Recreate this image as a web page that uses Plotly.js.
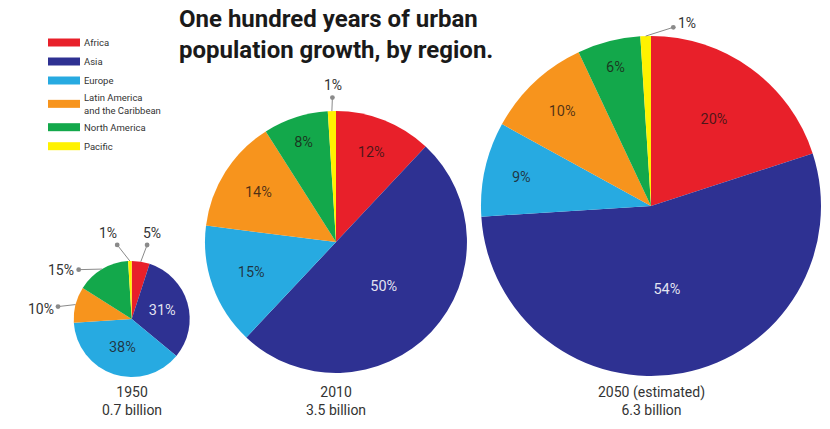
<!DOCTYPE html>
<html>
<head>
<meta charset="utf-8">
<script src="https://cdn.plot.ly/plotly-3.0.1.min.js"></script>
<style>html,body{margin:0;padding:0;background:#fff;}#chart{width:830px;height:429px;}</style>
</head>
<body>
<div id="chart"></div>
<script>
// ---- data ----
const regions = ['Africa', 'Asia', 'Europe', 'Latin America<br>and the Caribbean', 'North America', 'Pacific'];
const share1950 = [5, 31, 38, 10, 15, 1];
const share2010 = [12, 50, 15, 14, 8, 1];
const share2050 = [20, 54, 9, 10, 6, 1];
const years = ['1950', '2010', '2050 (estimated)'];
const totals = ['0.7 billion', '3.5 billion', '6.3 billion'];

// ---- style / layout ----
const W = 830, H = 429;
const colors = ['#E8202A', '#2E3192', '#27AAE1', '#F7941D', '#13A84B', '#FFF200'];
const dark = 'rgba(30,20,20,0.78)', light = 'rgba(255,255,255,0.88)';
const insideColors = [dark, light, dark, dark, dark, dark];
const FONT = 'Roboto, "DejaVu Sans", sans-serif';
// pixel boxes -> paper domains
function dom(x0, x1, yTop, yBot) { return {x: [x0 / W, x1 / W], y: [1 - yBot / H, 1 - yTop / H]}; }
const domains = [dom(73.7, 189.7, 261, 377), dom(205, 467, 111, 373), dom(481, 821, 36, 376)];
const seriesList = [share1950, share2010, share2050];
// which slices are labelled outside, with label offsets in px
const outside = [
  {5: [-22, -28], 0: [11, -29], 4: [-41, 1], 3: [-35, 4]},
  {5: [1, -26]},
  {5: [41, -13]}
];

const traces = seriesList.map((vals, k) => ({
  type: 'pie',
  labels: regions,
  values: vals,
  text: vals.map(v => v + '%'),
  textinfo: 'text',
  textposition: vals.map((v, i) => (i in outside[k]) ? 'none' : 'inside'),
  insidetextorientation: 'horizontal',
  insidetextfont: {family: FONT, size: 14.5, color: insideColors},
  sort: false,
  direction: 'clockwise',
  rotation: 0,
  marker: {colors: colors, line: {width: 0}},
  domain: domains[k],
  showlegend: k === 0,
  hoverinfo: 'skip'
}));

const annotations = [];
// title
annotations.push({
  xref: 'paper', yref: 'paper', x: 177 / W, y: 1 - 3 / H, xanchor: 'left', yanchor: 'top',
  showarrow: false, align: 'left',
  text: '<b>One hundred years of urban<br>population growth, by region.</b>',
  font: {family: FONT, size: 24, color: '#1a1a1a'}
});
// outside labels & year captions, positioned from pie geometry
seriesList.forEach((vals, k) => {
  const d = domains[k];
  const cx = W * (d.x[0] + d.x[1]) / 2;
  const cy = H * (1 - (d.y[0] + d.y[1]) / 2);
  const r = Math.min(W * (d.x[1] - d.x[0]), H * (d.y[1] - d.y[0])) / 2;
  const total = vals.reduce((a, b) => a + b, 0);
  let cum = 0;
  vals.forEach((v, i) => {
    const mid = (cum + v / 2) / total * 2 * Math.PI;
    cum += v;
    if (!(i in outside[k])) return;
    const px = cx + r * Math.sin(mid), py = cy - r * Math.cos(mid);
    const off = outside[k][i];
    annotations.push({
      xref: 'paper', yref: 'paper', x: px / W, y: 1 - py / H,
      ax: off[0], ay: off[1], axref: 'pixel', ayref: 'pixel',
      text: v + '%', showarrow: true, arrowside: 'start', startarrowhead: 6, startarrowsize: 1.2,
      arrowcolor: '#8a8a8a', arrowwidth: 1, standoff: 0, startstandoff: 3,
      font: {family: FONT, size: 14, color: '#333'}
    });
  });
  annotations.push({
    xref: 'paper', yref: 'paper', x: cx / W, y: 1 - 382 / H, xanchor: 'center', yanchor: 'top',
    showarrow: false, text: years[k] + '<br>' + totals[k],
    font: {family: FONT, size: 14, color: '#333'}
  });
});

const layout = {
  width: W, height: H,
  margin: {l: 0, r: 0, t: 0, b: 0},
  paper_bgcolor: '#fff',
  showlegend: true,
  legend: {
    x: 44 / W, y: 1 - 28 / H, xanchor: 'left', yanchor: 'top',
    font: {family: FONT, size: 9.5, color: '#333'},
    itemwidth: 30, tracegroupgap: 0, bgcolor: 'rgba(0,0,0,0)'
  },
  annotations: annotations
};

Plotly.newPlot('chart', traces, layout, {displayModeBar: false, staticPlot: true}).then(() => {
  document.querySelectorAll('.legendpoints path').forEach(p => p.setAttribute('d', 'M-16,4H16V-4H-16Z'));
});
</script>
</body>
</html>
